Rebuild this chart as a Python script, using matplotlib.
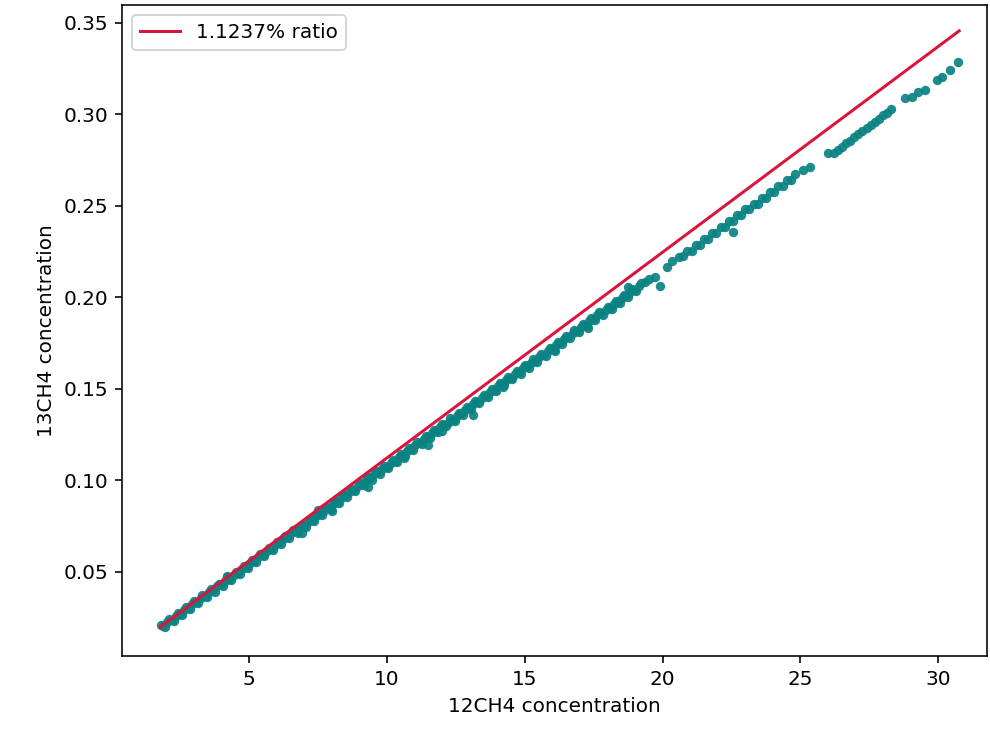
import numpy as np
import matplotlib
matplotlib.use('Agg')
import matplotlib.pyplot as plt

# 1.1237% reference ratio line (12CH4 range covered by the line)
ratio_pct = 1.1237
line_x = [1.76, 30.76]

# measured points: dense band, upper edge
band_hi_x = [1.80, 2.10, 2.40, 2.70, 3.00, 3.30, 3.60, 3.90, 4.20, 4.50,
             4.80, 5.10, 5.40, 5.70, 6.00, 6.30, 6.60, 6.90, 7.20, 7.50,
             7.80, 8.10, 8.40, 8.70, 9.00, 9.30, 9.60, 9.90, 10.20, 10.50,
             10.80, 11.10, 11.40, 11.70, 12.00, 12.30, 12.60, 12.90, 13.20, 13.50,
             13.80, 14.10, 14.40, 14.70, 15.00, 15.30, 15.60, 15.90, 16.20, 16.50,
             16.80, 17.10, 17.40, 17.70, 18.00, 18.30, 18.60, 18.90, 19.20]
band_hi_y = [0.0212, 0.0244, 0.0277, 0.0309, 0.0341, 0.0373, 0.0405, 0.0437, 0.0470, 0.0502,
             0.0534, 0.0566, 0.0598, 0.0631, 0.0663, 0.0695, 0.0727, 0.0759, 0.0792, 0.0824,
             0.0856, 0.0888, 0.0920, 0.0953, 0.0985, 0.1017, 0.1049, 0.1081, 0.1113, 0.1146,
             0.1178, 0.1210, 0.1242, 0.1274, 0.1307, 0.1339, 0.1371, 0.1403, 0.1435, 0.1468,
             0.1500, 0.1532, 0.1564, 0.1596, 0.1629, 0.1661, 0.1693, 0.1725, 0.1757, 0.1789,
             0.1822, 0.1854, 0.1886, 0.1918, 0.1950, 0.1983, 0.2015, 0.2047, 0.2079]

# dense band, lower edge
band_lo_x = [1.95, 2.25, 2.55, 2.85, 3.15, 3.45, 3.75, 4.05, 4.35, 4.65,
             4.95, 5.25, 5.55, 5.85, 6.15, 6.45, 6.75, 7.05, 7.35, 7.65,
             7.95, 8.25, 8.55, 8.85, 9.15, 9.45, 9.75, 10.05, 10.35, 10.65,
             10.95, 11.25, 11.55, 11.85, 12.15, 12.45, 12.75, 13.05, 13.35, 13.65,
             13.95, 14.25, 14.55, 14.85, 15.15, 15.45, 15.75, 16.05, 16.35, 16.65,
             16.95, 17.25, 17.55, 17.85, 18.15, 18.45, 18.75, 19.05]
band_lo_y = [0.0200, 0.0232, 0.0265, 0.0297, 0.0329, 0.0361, 0.0393, 0.0426, 0.0458, 0.0490,
             0.0522, 0.0554, 0.0587, 0.0619, 0.0651, 0.0683, 0.0715, 0.0747, 0.0780, 0.0812,
             0.0844, 0.0876, 0.0908, 0.0941, 0.0973, 0.1005, 0.1037, 0.1069, 0.1102, 0.1134,
             0.1166, 0.1198, 0.1230, 0.1263, 0.1295, 0.1327, 0.1359, 0.1391, 0.1423, 0.1456,
             0.1488, 0.1520, 0.1552, 0.1584, 0.1617, 0.1649, 0.1681, 0.1713, 0.1745, 0.1778,
             0.1810, 0.1842, 0.1874, 0.1906, 0.1939, 0.1971, 0.2003, 0.2035]

# dense band, centre
band_mid_x = [1.87, 2.18, 2.48, 2.78, 3.08, 3.38, 3.68, 3.98, 4.28, 4.58,
              4.88, 5.18, 5.48, 5.78, 6.08, 6.38, 6.68, 6.98, 7.28, 7.58,
              7.88, 8.18, 8.48, 8.78, 9.08, 9.38, 9.68, 9.98, 10.28, 10.58,
              10.88, 11.18, 11.48, 11.78, 12.08, 12.38, 12.68, 12.98, 13.28, 13.58,
              13.88, 14.18, 14.48, 14.78, 15.08, 15.38, 15.68, 15.98, 16.28, 16.58,
              16.88, 17.18, 17.48, 17.78, 18.08, 18.38, 18.68, 18.98]
band_mid_y = [0.0206, 0.0239, 0.0271, 0.0303, 0.0336, 0.0368, 0.0400, 0.0432, 0.0464, 0.0496,
              0.0529, 0.0561, 0.0593, 0.0625, 0.0657, 0.0690, 0.0722, 0.0754, 0.0786, 0.0818,
              0.0851, 0.0883, 0.0915, 0.0947, 0.0979, 0.1011, 0.1044, 0.1076, 0.1108, 0.1140,
              0.1172, 0.1205, 0.1237, 0.1269, 0.1301, 0.1333, 0.1366, 0.1398, 0.1430, 0.1462,
              0.1494, 0.1526, 0.1559, 0.1591, 0.1623, 0.1655, 0.1687, 0.1720, 0.1752, 0.1784,
              0.1816, 0.1848, 0.1881, 0.1913, 0.1945, 0.1977, 0.2009, 0.2042]

# dense band, upper-centre
band_um_x = [2.03, 2.33, 2.63, 2.93, 3.23, 3.53, 3.83, 4.13, 4.43, 4.73,
             5.03, 5.33, 5.63, 5.93, 6.23, 6.53, 6.83, 7.13, 7.43, 7.73,
             8.03, 8.33, 8.63, 8.93, 9.23, 9.53, 9.83, 10.13, 10.43, 10.73,
             11.03, 11.33, 11.63, 11.93, 12.23, 12.53, 12.83, 13.13, 13.43, 13.73,
             14.03, 14.33, 14.63, 14.93, 15.23, 15.53, 15.83, 16.13, 16.43, 16.73,
             17.03, 17.33, 17.63, 17.93, 18.23, 18.53, 18.83, 19.13]
band_um_y = [0.0228, 0.0260, 0.0292, 0.0324, 0.0357, 0.0389, 0.0421, 0.0453, 0.0485, 0.0518,
             0.0550, 0.0582, 0.0614, 0.0646, 0.0678, 0.0711, 0.0743, 0.0775, 0.0807, 0.0839,
             0.0872, 0.0904, 0.0936, 0.0968, 0.1000, 0.1033, 0.1065, 0.1097, 0.1129, 0.1161,
             0.1194, 0.1226, 0.1258, 0.1290, 0.1322, 0.1354, 0.1387, 0.1419, 0.1451, 0.1483,
             0.1515, 0.1548, 0.1580, 0.1612, 0.1644, 0.1676, 0.1709, 0.1741, 0.1773, 0.1805,
             0.1837, 0.1869, 0.1902, 0.1934, 0.1966, 0.1998, 0.2030, 0.2063]

# band between 20 and 25
mid_x = [19.35, 19.50, 19.72, 20.14, 20.33,
         20.60, 20.75, 20.90, 21.05, 21.20, 21.35, 21.50, 21.65, 21.80, 21.95,
         22.10, 22.25, 22.40, 22.55, 22.70, 22.85, 23.00, 23.15, 23.30, 23.45,
         23.60, 23.75, 23.90, 24.05, 24.20, 24.35, 24.50, 24.65, 24.80,
         25.10, 25.34]
mid_y = [0.2086, 0.2098, 0.2110, 0.2168, 0.2200,
         0.2223, 0.2224, 0.2256, 0.2256, 0.2288, 0.2288, 0.2320, 0.2320, 0.2352, 0.2352,
         0.2384, 0.2384, 0.2417, 0.2417, 0.2449, 0.2449, 0.2481, 0.2481, 0.2513, 0.2513,
         0.2545, 0.2545, 0.2577, 0.2578, 0.2610, 0.2610, 0.2642, 0.2642, 0.2674,
         0.2697, 0.2715]

# upper end, sparse
top_x = [26.01, 26.20, 26.35, 26.50, 26.65, 26.80, 26.95, 27.10, 27.25, 27.40,
         27.55, 27.70, 27.85, 28.00, 28.15, 28.30,
         28.79, 29.03, 29.27, 29.52, 29.94, 30.12, 30.42, 30.73]
top_y = [0.2788, 0.2790, 0.2808, 0.2823, 0.2842, 0.2856, 0.2877, 0.2891, 0.2910, 0.2925,
         0.2944, 0.2960, 0.2976, 0.2995, 0.3009, 0.3027,
         0.3088, 0.3097, 0.3124, 0.3133, 0.3188, 0.3206, 0.3243, 0.3288]

# stray points off the band
odd_x = [4.20, 6.90, 7.50, 8.00, 9.30, 10.60, 11.50, 12.00, 13.10, 14.20,
         16.10, 17.30, 18.74, 19.90, 22.56]
odd_y = [0.0478, 0.0715, 0.0837, 0.0835, 0.0965, 0.1121, 0.1195, 0.1272, 0.1355, 0.1510,
         0.1709, 0.1834, 0.2057, 0.2060, 0.2360]

x12 = np.array(band_hi_x + band_lo_x + band_mid_x + band_um_x + mid_x + top_x + odd_x)
y13 = np.array(band_hi_y + band_lo_y + band_mid_y + band_um_y + mid_y + top_y + odd_y)

plt.rcParams['font.size'] = 10
fig = plt.figure(figsize=(990 / 144, 730 / 144), dpi=144)
ax = fig.add_axes([0.1235, 0.1014, 0.8732, 0.8918])

ax.scatter(x12, y13, s=22, color='#0b8282', alpha=0.92, linewidths=0)
lx = np.array(line_x)
ax.plot(lx, lx * ratio_pct / 100, color='crimson', label='1.1237% ratio')

ax.set_xlim(0.39, 31.76)
ax.set_ylim(0.0041, 0.3598)
ax.set_xticks([5, 10, 15, 20, 25, 30])
ax.set_yticks([0.05, 0.10, 0.15, 0.20, 0.25, 0.30, 0.35])
ax.set_xlabel('12CH4 concentration')
ax.set_ylabel('13CH4 concentration')
ax.legend(loc='upper left')

fig.savefig('out.png', dpi=144)
